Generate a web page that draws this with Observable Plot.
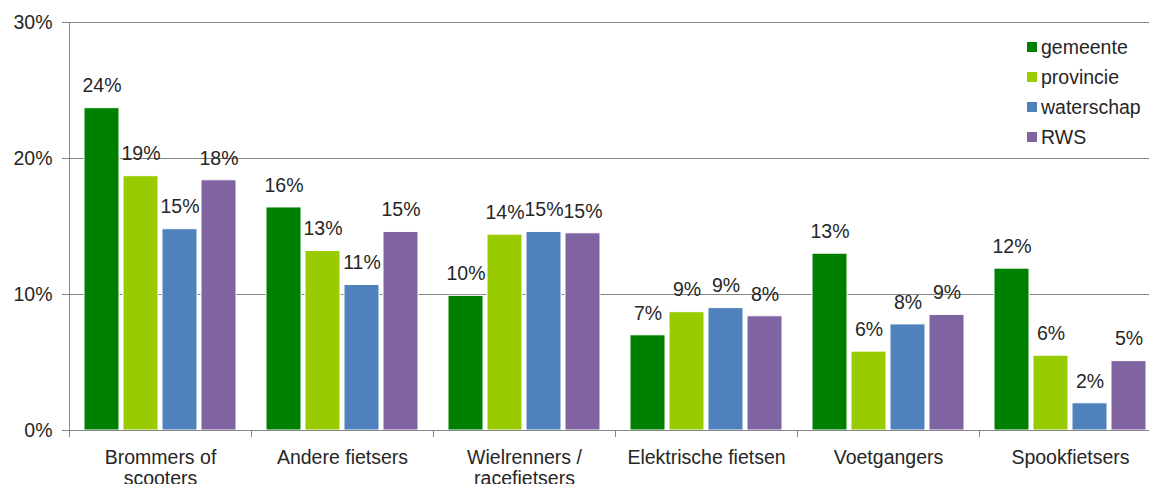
<!DOCTYPE html>
<html><head><meta charset="utf-8">
<script src="https://cdn.jsdelivr.net/npm/d3@7"></script>
<script src="https://cdn.jsdelivr.net/npm/@observablehq/plot@0.6"></script>
<style>
body{margin:0;background:#fff;font-family:"Liberation Sans",Arial,sans-serif;}
#wrap{position:relative;width:1149px;height:484px;overflow:hidden}
#legend{position:absolute;left:1027px;top:32px;font-size:19.5px;color:#262626}
.item{height:30px;display:flex;align-items:center}
.sw{width:10px;height:10px;margin-right:4px}
</style></head><body><div id="wrap"><div id="legend"></div></div>
<script>
const categories = ["Brommers of\nscooters","Andere fietsers","Wielrenners /\nracefietsers","Elektrische fietsen","Voetgangers","Spookfietsers"];
const series = ["gemeente","provincie","waterschap","RWS"];
const colors = ["#008000","#99cc00","#4f81bd","#8064a2"];
const gemeente = [23.7,16.4,9.9,7.0,13.0,11.9];
const provincie = [18.7,13.2,14.4,8.7,5.8,5.5];
const waterschap = [14.8,10.7,14.6,9.0,7.8,2.0];
const rws = [18.4,14.6,14.5,8.4,8.5,5.1];
const yTicks = [0,10,20,30];

const valuesBySeries = [gemeente, provincie, waterschap, rws];
const data = categories.flatMap((c,i) => series.map((s,j) => ({category:c, series:s, value:valuesBySeries[j][i]})));

const W=1149, H=484, mL=69, mT=22, mB=54;
const fxRange=[mL, 1161];
const half=(fxRange[1]-fxRange[0])/categories.length/2;
const grid="#868686", ink="#262626";

const chart = Plot.plot({
  width:W, height:H, marginLeft:mL, marginRight:0, marginTop:mT, marginBottom:mB,
  style:{fontFamily:'"Liberation Sans", Arial, sans-serif', background:"white"},
  fx:{domain:categories, range:fxRange, padding:0, label:null},
  x:{domain:series, paddingInner:0.1, paddingOuter:0.33, axis:null},
  y:{domain:[0,30], axis:null},
  color:{domain:series, range:colors},
  marks:[
    Plot.ruleY(yTicks.filter(d=>d>0), {stroke:grid}),
    Plot.barY(data, {fx:"category", x:"series", y:"value", fill:"series", stroke:"white", strokeWidth:1}),
    Plot.ruleY([0], {stroke:grid}),
    Plot.frame({anchor:"left", stroke:grid, fx:() => categories[0]}),
    Plot.text(data, {fx:"category", x:"series", y:"value", text:d=>Math.round(d.value)+"%", dy:-22, fontSize:19.5, fill:ink}),
    Plot.axisY({ticks:yTicks, tickFormat:d=>d+"%", tickSize:7, tickPadding:10, fontSize:19.5, stroke:grid, fill:ink, label:null}),
    Plot.axisFx({anchor:"bottom", tickSize:7, fill:"none", dx:-half, stroke:grid, label:null}),
    Plot.axisFx({anchor:"bottom", tickSize:0, tickPadding:18, fontSize:19.5, fill:ink, lineHeight:1.1, label:null})
  ]
});
document.getElementById("wrap").prepend(chart);

const legend=document.getElementById("legend");
series.forEach((s,j)=>{
  const it=document.createElement("div"); it.className="item";
  const sw=document.createElement("div"); sw.className="sw"; sw.style.background=colors[j];
  const t=document.createElement("span"); t.textContent=s;
  it.append(sw,t); legend.append(it);
});
</script></body></html>
